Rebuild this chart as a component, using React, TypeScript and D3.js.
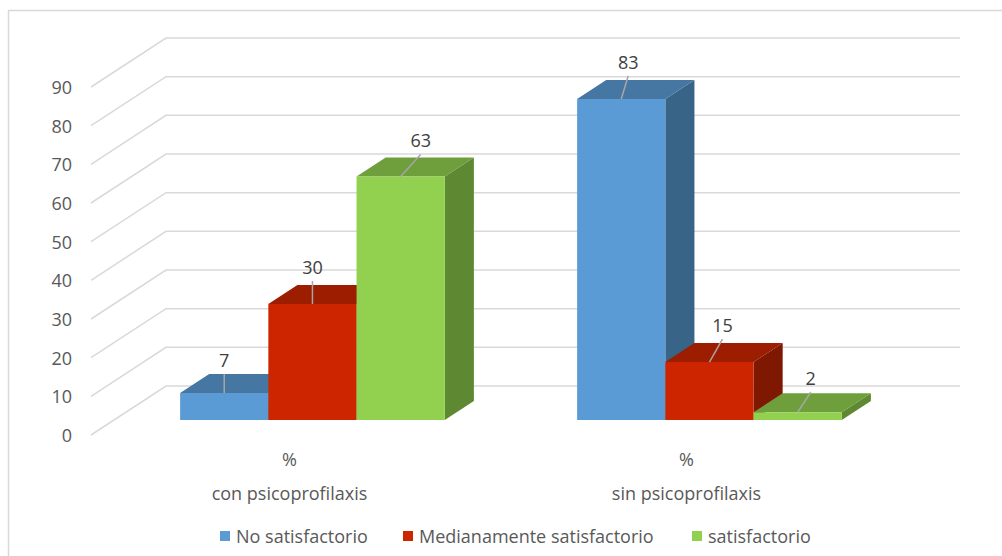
import React from "react";
import * as d3 from "d3";

// Data
const categories = ["con psicoprofilaxis", "sin psicoprofilaxis"];
const categoryUnits = ["%", "%"];
const seriesNames = ["No satisfactorio", "Medianamente satisfactorio", "satisfactorio"];
const noSatisfactorio = [7, 83];
const medianamenteSatisfactorio = [30, 15];
const satisfactorio = [63, 2];
const yTicks = [0, 10, 20, 30, 40, 50, 60, 70, 80, 90];

const seriesValues = [noSatisfactorio, medianamenteSatisfactorio, satisfactorio];

// Styles: front, top and side shades per series
const frontColors = ["#5b9bd5", "#cc2500", "#92d050"];
const topColors = ["#4677a3", "#9c1d00", "#6f9f3d"];
const sideColors = ["#386488", "#7e1800", "#5e8932"];

// Nudges of the value labels from the top of their bar [series][category]
const labelNudge = [
  [[0, -33], [7, -37]],
  [[0, -37], [13, -37]],
  [[20, -36], [13, -34]],
];

const W = 1002;
const H = 556;
const FONT = "'Open Sans', sans-serif";
const FS = 18;

// Oblique projection of the 3D box
const DEPTH_DX = 75;
const DEPTH_DY = -49;
const BAR_T0 = 0.306;
const BAR_T1 = 0.694;

export default function App() {
  const y = d3.scaleLinear().domain([0, 90]).range([435, 87]);
  const x = d3.scaleBand<string>().domain(categories).range([91, 885]).paddingInner(0).paddingOuter(0);
  const barW = x.bandwidth() / 4.5;
  const xs = d3.scaleBand<string>().domain(seriesNames).range([0, 3 * barW]);

  const proj = (px: number, v: number, t: number): [number, number] => [
    px + t * DEPTH_DX,
    y(v) + t * DEPTH_DY,
  ];
  const poly = (pts: [number, number][]) => d3.line()(pts)! + "Z";

  const backRight = 885 + DEPTH_DX;

  const bars: React.ReactNode[] = [];
  const labels: React.ReactNode[] = [];
  categories.forEach((cat, ci) => {
    seriesNames.forEach((s, si) => {
      const v = seriesValues[si][ci];
      const x0 = (x(cat) as number) + 0.75 * barW + (xs(s) as number);
      const x1 = x0 + barW;
      const front = poly([proj(x0, 0, BAR_T0), proj(x1, 0, BAR_T0), proj(x1, v, BAR_T0), proj(x0, v, BAR_T0)]);
      const top = poly([proj(x0, v, BAR_T0), proj(x1, v, BAR_T0), proj(x1, v, BAR_T1), proj(x0, v, BAR_T1)]);
      const side = poly([proj(x1, 0, BAR_T0), proj(x1, 0, BAR_T1), proj(x1, v, BAR_T1), proj(x1, v, BAR_T0)]);
      bars.push(
        <g key={`${cat}-${s}`}>
          <path d={side} fill={sideColors[si]} />
          <path d={top} fill={topColors[si]} />
          <path d={front} fill={frontColors[si]} />
        </g>
      );
      const [ax, ay] = proj((x0 + x1) / 2, v, BAR_T0);
      const [ndx, ndy] = labelNudge[si][ci];
      const lx = ax + ndx;
      const ly = ay + ndy;
      labels.push(
        <g key={`lbl-${cat}-${s}`}>
          <line x1={ax} y1={ay} x2={lx} y2={ly + 14} stroke="#a6a6a6" strokeWidth={1.5} />
          <text x={lx} y={ly} textAnchor="middle" dominantBaseline="central" fontFamily={FONT} fontSize={FS} fill="#404040">
            {v}
          </text>
        </g>
      );
    });
  });

  const legendX = [220, 403, 692];

  return (
    <svg width={W} height={H} style={{ position: "absolute", left: 0, top: 0, background: "#fff" }}>
      <rect x={8.5} y={10.5} width={1100} height={700} fill="#fff" stroke="#d9d9d9" strokeWidth={1.5} />
      {/* wall gridlines */}
      {yTicks.map((t) => {
        const [bx, by] = proj(91, t, 1);
        return (
          <path
            key={`g${t}`}
            d={`M91,${y(t)}L${bx},${by}L${backRight},${by}`}
            fill="none"
            stroke="#d9d9d9"
            strokeWidth={1.5}
          />
        );
      })}
      {yTicks.map((t) => (
        <text key={`t${t}`} x={72} y={y(t)} textAnchor="end" dominantBaseline="central" fontFamily={FONT} fontSize={FS} fill="#595959">
          {t}
        </text>
      ))}
      {bars}
      {labels}
      {categories.map((c, i) => {
        const cx = (x(c) as number) + x.bandwidth() / 2;
        return (
          <g key={c} fontFamily={FONT} fontSize={FS} fill="#595959" textAnchor="middle">
            <text x={cx} y={459} dominantBaseline="central">{categoryUnits[i]}</text>
            <text x={cx} y={493} dominantBaseline="central">{c}</text>
          </g>
        );
      })}
      {seriesNames.map((s, i) => (
        <g key={s}>
          <rect x={legendX[i]} y={531} width={10} height={10} fill={frontColors[i]} />
          <text x={legendX[i] + 16} y={536} dominantBaseline="central" fontFamily={FONT} fontSize={FS} fill="#595959">
            {s}
          </text>
        </g>
      ))}
    </svg>
  );
}
